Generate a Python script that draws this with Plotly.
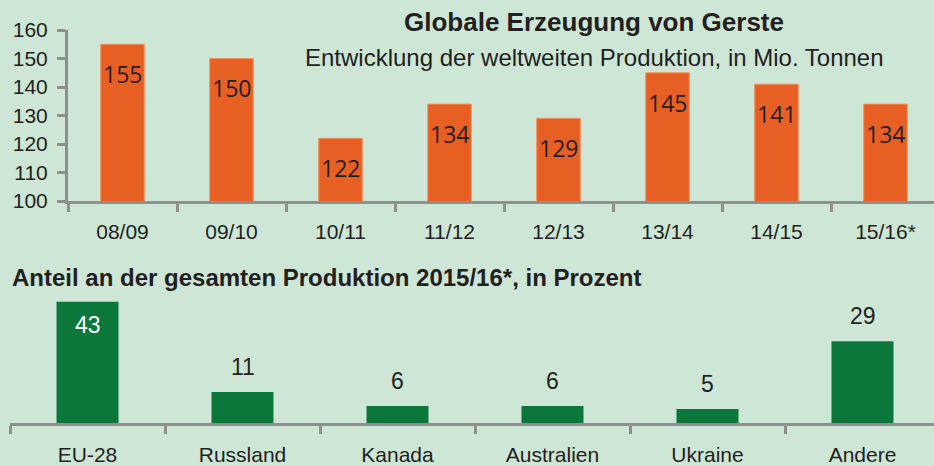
import plotly.graph_objects as go

# ---- data ----
years = ["08/09", "09/10", "10/11", "11/12", "12/13", "13/14", "14/15", "15/16*"]
production = [155, 150, 122, 134, 129, 145, 141, 134]

countries = ["EU-28", "Russland", "Kanada", "Australien", "Ukraine", "Andere"]
shares = [43, 11, 6, 6, 5, 29]

y_ticks = [100, 110, 120, 130, 140, 150, 160]

title_top = "Globale Erzeugung von Gerste"
subtitle_top = "Entwicklung der weltweiten Produktion, in Mio. Tonnen"
title_bottom = "Anteil an der gesamten Produktion 2015/16*, in Prozent"

# ---- style ----
W, H = 934, 466
BG = "#CDE6D5"
ORANGE = "#E85F24"
GREEN = "#0C773A"
AXIS = "#8F8F8F"
TXT = "#231F20"
NARROW = "Liberation Sans Narrow, Arial Narrow, Liberation Sans, Arial, sans-serif"
LABELFONT = "Open Sans, DejaVu Sans, sans-serif"

fig = go.Figure()

fig.add_trace(go.Bar(
    x=years, y=production, xaxis="x", yaxis="y",
    marker=dict(color=ORANGE, line=dict(color="#F2945F", width=1)),
    width=0.4, showlegend=False, hoverinfo="x+y",
))
fig.add_trace(go.Bar(
    x=countries, y=shares, xaxis="x2", yaxis="y2",
    marker=dict(color=GREEN, line=dict(width=0)),
    width=0.4, showlegend=False, hoverinfo="x+y",
))

ann = []
for c, v in zip(years, production):
    ann.append(dict(x=c, y=v, xref="x", yref="y", text=str(v), showarrow=False,
                    yanchor="middle", yshift=-30,
                    font=dict(family=LABELFONT, size=23, color=TXT)))
vmax = max(shares)
for c, v in zip(countries, shares):
    inside = v == vmax
    ann.append(dict(x=c, y=v, xref="x2", yref="y2", text=str(v), showarrow=False,
                    yanchor="middle", yshift=-23 if inside else 25,
                    font=dict(family=NARROW, size=23, color="white" if inside else TXT)))

ann.append(dict(x=594 / W, y=1 - 22 / H, xref="paper", yref="paper", text="<b>" + title_top + "</b>",
                showarrow=False, xanchor="center", yanchor="middle",
                font=dict(family=NARROW, size=26, color=TXT)))
ann.append(dict(x=594 / W, y=1 - 58 / H, xref="paper", yref="paper", text=subtitle_top,
                showarrow=False, xanchor="center", yanchor="middle",
                font=dict(family=NARROW, size=24, color=TXT)))
ann.append(dict(x=10 / W, y=1 - 277 / H, xref="paper", yref="paper", text="<b>" + title_bottom + "</b>",
                showarrow=False, xanchor="left", yanchor="middle",
                font=dict(family=NARROW, size=24, color=TXT)))

tickfont = dict(family=NARROW, size=21, color=TXT)
fig.update_layout(
    width=W, height=H,
    margin=dict(l=0, r=0, t=0, b=0, autoexpand=False),
    paper_bgcolor=BG, plot_bgcolor=BG,
    annotations=ann,
    xaxis=dict(domain=[68 / W, 1], range=[-0.5, 7.5 - 6 / 109], type="category",
               showline=True, linecolor=AXIS, linewidth=3,
               ticks="outside", tickson="boundaries", ticklen=8, tickwidth=3, tickcolor=AXIS,
               showgrid=False, zeroline=False, ticklabelstandoff=10, automargin=False,
               tickfont=tickfont, fixedrange=True),
    yaxis=dict(domain=[1 - 201 / H, 1 - 30 / H], range=[100, 160],
               tickvals=y_ticks, showline=True, linecolor=AXIS, linewidth=3,
               ticks="outside", ticklen=8, tickwidth=3, tickcolor=AXIS,
               showgrid=False, zeroline=False, ticklabelstandoff=5, automargin=False,
               tickfont=tickfont, fixedrange=True),
    xaxis2=dict(domain=[10 / W, 1], range=[-0.5, 5.5 - 6 / 155], type="category", anchor="y2",
                showline=True, linecolor=AXIS, linewidth=3,
                ticks="outside", tickson="boundaries", ticklen=8, tickwidth=3, tickcolor=AXIS,
                showgrid=False, zeroline=False, ticklabelstandoff=11, automargin=False,
                tickfont=tickfont, fixedrange=True),
    yaxis2=dict(domain=[1 - 423 / H, 1 - 282 / H], range=[0, 50], anchor="x2",
                visible=False, automargin=False, fixedrange=True),
)

fig.write_html("out.html", config={"displayModeBar": False})
